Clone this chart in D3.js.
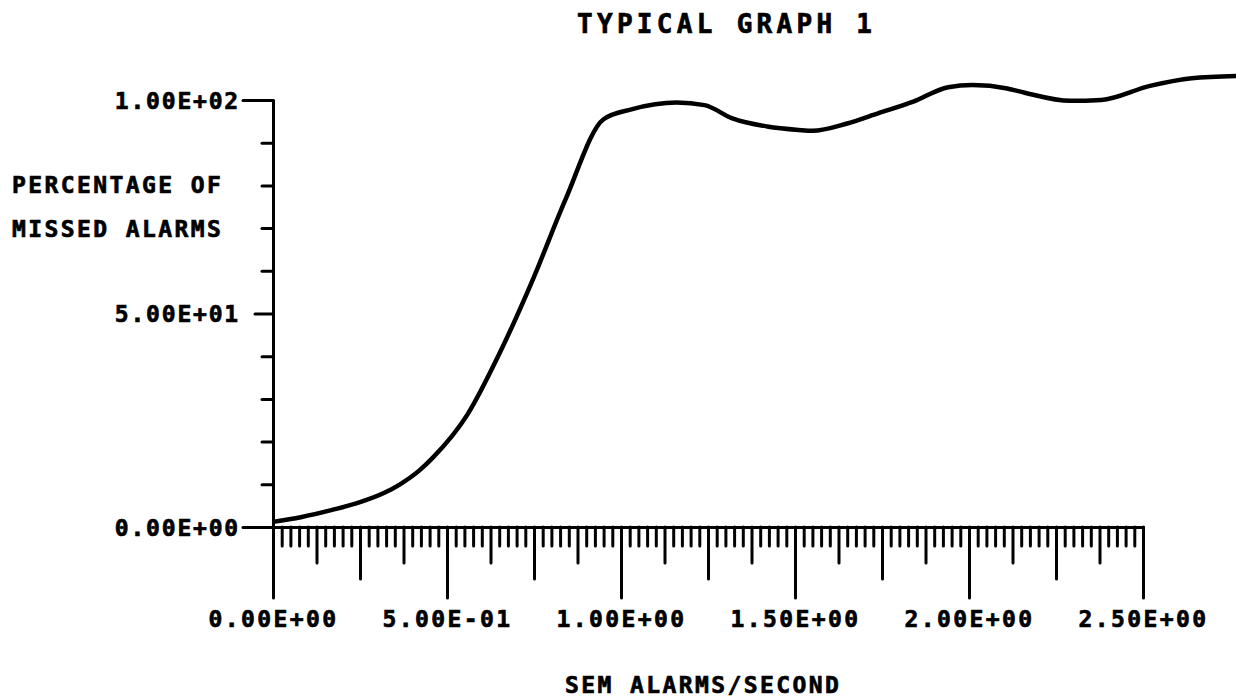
<!DOCTYPE html>
<html>
<head>
<meta charset="utf-8">
<script src="https://cdn.jsdelivr.net/npm/d3@7"></script>
<style>
  body { margin: 0; background: #fff; }
  svg { display: block; }
  text { font-family: "DejaVu Sans Mono", monospace; font-weight: bold; fill: #000; stroke: #000; stroke-width: 0.7px; }
</style>
</head>
<body>
<script>
// 读数 (SEM alarms/second -> percentage of missed alarms)
const rate = [0, 0.08, 0.17, 0.25, 0.32, 0.365, 0.42, 0.46, 0.56, 0.65, 0.75, 0.84, 0.95,
  1.03, 1.16, 1.24, 1.32, 1.42, 1.51, 1.55, 1.65, 1.74, 1.84, 1.94, 2.01, 2.11, 2.16,
  2.29, 2.38, 2.52, 2.64, 2.77];
const missed = [1.2, 2.3, 4.0, 5.8, 8.0, 10.0, 13.2, 16.3, 26.5, 40.5, 58.6, 76.6, 95.5,
  97.8, 99.4, 98.8, 95.7, 93.8, 93.0, 92.8, 94.5, 96.9, 99.6, 103.0, 103.5, 102.7, 101.7,
  99.8, 100.0, 103.3, 105.1, 105.6];

const xLabelValues = [0, 0.5, 1.0, 1.5, 2.0, 2.5];
const xTickLabels = ["0.00E+00", "5.00E-01", "1.00E+00", "1.50E+00", "2.00E+00", "2.50E+00"];
const yLabelValues = [0, 50, 100];
const yTickLabels = ["0.00E+00", "5.00E+01", "1.00E+02"];

const width = 1236;
const height = 700;

const svg = d3.select("body").append("svg")
    .attr("width", width)
    .attr("height", height);

const x = d3.scaleLinear().domain([0, 2.5]).range([273, 1143]);
const y = d3.scaleLinear().domain([0, 100]).range([527, 100]);

// x轴小刻度：每 0.025 一个
const xMinor = d3.range(0, 101).map(i => i / 40);
const xTickLen = v => {
    const k = Math.round(v * 40);
    if (k % 20 === 0) return 71;
    if (k % 10 === 0) return 52;
    if (k % 5 === 0) return 36;
    return 19;
};

const gx = svg.append("g")
    .attr("transform", `translate(0,${y(0)})`)
    .call(d3.axisBottom(x).tickValues(xMinor).tickFormat("").tickSizeOuter(0));
gx.selectAll(".tick line").attr("y2", d => xTickLen(d));
gx.selectAll("path, line")
    .attr("stroke", "#000")
    .attr("stroke-width", 3)
    .attr("stroke-linecap", "round");

// x轴标签
const gxl = svg.append("g")
    .attr("transform", `translate(0,${y(0)})`)
    .call(d3.axisBottom(x).tickValues(xLabelValues)
        .tickFormat((d, i) => xTickLabels[i]).tickSize(0).tickPadding(0));
gxl.select(".domain").remove();
gxl.selectAll("text")
    .attr("y", 100)
    .attr("dy", 0)
    .style("font-size", "23px")
    .style("letter-spacing", "2.4px");

// y轴
const yTicks = d3.range(0, 101, 10);
const yTickLen = v => (v === 0 || v === 100) ? 30 : (v === 50 ? 18 : 11);
const gy = svg.append("g")
    .attr("transform", `translate(${x(0)},0)`)
    .call(d3.axisLeft(y).tickValues(yTicks).tickFormat("").tickSizeOuter(0));
gy.selectAll(".tick line").attr("x2", d => -yTickLen(d));
gy.selectAll("path, line")
    .attr("stroke", "#000")
    .attr("stroke-width", 3)
    .attr("stroke-linecap", "round");

svg.append("g").selectAll("text")
    .data(yLabelValues)
    .enter().append("text")
    .attr("x", 240)
    .attr("y", d => y(d) + 8.5)
    .attr("text-anchor", "end")
    .style("font-size", "23px")
    .style("letter-spacing", "1.8px")
    .text((d, i) => yTickLabels[i]);

// 曲线
const line = d3.line()
    .x((d, i) => x(rate[i]))
    .y(d => y(d))
    .curve(d3.curveMonotoneX);

svg.append("path")
    .datum(missed)
    .attr("fill", "none")
    .attr("stroke", "#000")
    .attr("stroke-width", 4.5)
    .attr("stroke-linejoin", "round")
    .attr("d", line);

// 标题和轴标题
svg.append("text")
    .attr("x", 577)
    .attr("y", 33)
    .style("font-size", "26px")
    .style("letter-spacing", "4.3px")
    .text("TYPICAL GRAPH 1");

svg.append("text")
    .attr("x", 12)
    .attr("y", 193)
    .style("font-size", "23px")
    .style("letter-spacing", "2.4px")
    .text("PERCENTAGE OF");

svg.append("text")
    .attr("x", 12)
    .attr("y", 237)
    .style("font-size", "23px")
    .style("letter-spacing", "2.4px")
    .text("MISSED ALARMS");

svg.append("text")
    .attr("x", 565)
    .attr("y", 693)
    .style("font-size", "23px")
    .style("letter-spacing", "2.4px")
    .text("SEM ALARMS/SECOND");
</script>
</body>
</html>
